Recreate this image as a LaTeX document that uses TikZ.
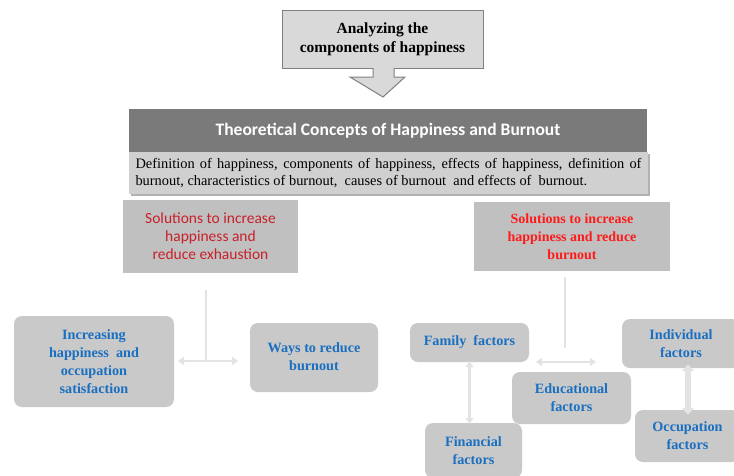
\documentclass[tikz,border=0pt]{standalone}
\usepackage{fontspec}
\setmainfont{Liberation Serif}
\newfontfamily\calfont{Carlito}
\usetikzlibrary{arrows.meta}
\definecolor{topfill}{HTML}{D9D9D9}
\definecolor{topdraw}{HTML}{808080}
\definecolor{bannerfill}{HTML}{7A7A7A}
\definecolor{descfill}{HTML}{D0D0D0}
\definecolor{redfill}{HTML}{C0C0C0}
\definecolor{boxfill}{HTML}{C9C9C9}
\definecolor{redA}{HTML}{C8202A}
\definecolor{redB}{HTML}{FF1A1A}
\definecolor{blueT}{HTML}{1A6FC0}
\definecolor{linkc}{HTML}{E3E3E3}
\tikzset{
  redbox/.style={fill=redfill, draw=none, align=center, inner sep=0pt},
  factor/.style={fill=boxfill, draw=none, rounded corners=8pt, align=center, inner sep=0pt,
     text=blueT, font=\fontsize{14.2}{18}\selectfont\bfseries},
  link/.style={draw=linkc, line width=2pt},
  dlink/.style={draw=linkc, line width=2pt, {Triangle[width=8pt,length=6pt]}-{Triangle[width=8pt,length=6pt]}},
  fatlink/.style={draw=linkc, line width=6pt, {Triangle[width=12pt,length=7pt]}-{Triangle[width=12pt,length=7pt]}}
}
\begin{document}
\begin{tikzpicture}[x=1pt,y=-1pt]
\useasboundingbox (0,0) rectangle (734,475);
\clip (0,0) rectangle (734,475);
% top box and down arrow
\node[fill=topfill, draw=topdraw, line width=1pt, minimum width=201pt, minimum height=58pt, align=center,
  inner sep=0pt, font=\fontsize{15.5}{19}\selectfont\bfseries] (top) at (382.5,39) {Analyzing the\\components of happiness};
\draw[fill=topfill, draw=topdraw, line width=1pt] (373,68) -- (373,77) -- (350,77) -- (383,97) -- (405,77) -- (394,77) -- (394,68);
% banner
\node[fill=bannerfill, minimum width=518pt, minimum height=43pt, inner sep=0pt, text=white,
  font=\calfont\fontsize{17.5}{20}\selectfont\bfseries] (banner) at (388,130.5) {Theoretical Concepts of Happiness and Burnout};
\fill[black!30] (131,154) rectangle (650,196);
\node[fill=descfill, minimum width=519pt, minimum height=42pt, inner sep=0pt] (desc) at (388.5,173)
  {\parbox{506pt}{\fontsize{14.4}{17}\selectfont Definition of happiness, components of happiness, effects of happiness, definition of\linebreak burnout,\ characteristics of burnout,\ \ causes of burnout\ \ and effects of\ \ burnout.}};
% red boxes
\node[redbox, minimum width=175pt, minimum height=73pt, text=redA,
  font=\calfont\fontsize{15.5}{18}\selectfont] (redL) at (210.5,236.5) {Solutions to increase\\happiness and\\reduce exhaustion};
\node[redbox, minimum width=196pt, minimum height=69pt, text=redB,
  font=\fontsize{14}{18}\selectfont\bfseries] (redR) at (572,236.5) {Solutions\ to\ increase\\happiness\ and\ reduce\\burnout};
% left factors
\node[factor, minimum width=160pt, minimum height=91pt] (incr) at (94,361.5) {Increasing\\happiness\ \ and\\occupation\\satisfaction};
\node[factor, minimum width=128pt, minimum height=69pt] (ways) at (314,357.5) {\raisebox{6pt}{\begin{tabular}{@{}c@{}}Ways to reduce\\[0pt]burnout\end{tabular}}};
% right factors
\node[factor, minimum width=119pt, minimum height=39pt] (family) at (469.5,342.5) {\raisebox{3pt}{Family\ \ factors}};
\node[factor, minimum width=97pt, minimum height=55pt] (fin) at (473.5,450.5) {Financial\\factors};
\node[factor, minimum width=119pt, minimum height=52pt] (edu) at (571.5,398) {Educational\\factors};
\node[factor, minimum width=118pt, minimum height=49pt] (ind) at (681,343.5) {Individual\\factors};
\node[factor, minimum width=105pt, minimum height=52pt] (occ) at (687.5,436) {Occupation\\factors};
% connectors left
\coordinate (lTop) at (206,290);
\coordinate (lMid) at (206,361);
\coordinate (lA) at (178,361);
\coordinate (lB) at (238,361);
\draw[link] (lTop) -- (lMid);
\draw[dlink] (lA) -- (lB);
% connectors right
\coordinate (rTop) at (565,277);
\coordinate (rMid) at (565,348);
\coordinate (rA) at (536,362);
\coordinate (rB) at (596,362);
\draw[link] (rTop) -- (rMid);
\draw[dlink] (rA) -- (rB);
% vertical links
\draw[dlink, line width=2.5pt] ([yshift=1pt]family.south) -- ([yshift=-1pt]family.south |- fin.north);
\draw[fatlink] ([xshift=7pt,yshift=4pt]ind.south) -- ([xshift=7pt,yshift=-5pt]ind.south |- occ.north);
\end{tikzpicture}
\end{document}
